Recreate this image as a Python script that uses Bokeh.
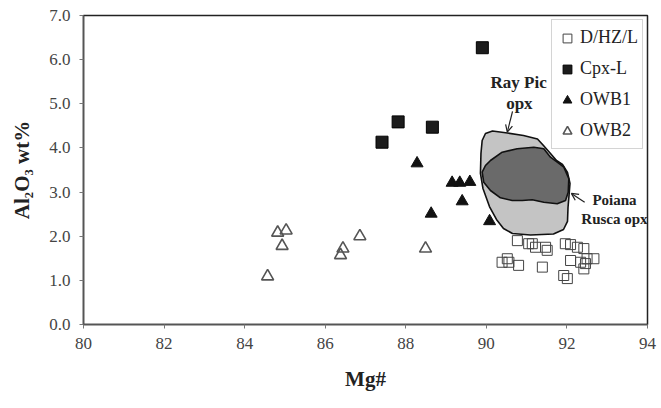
from bokeh.plotting import figure
from bokeh.models import (Range1d, FixedTicker, PrintfTickFormatter, Legend, LegendItem,
                          Label, Arrow, OpenHead)
from bokeh.embed import file_html
from bokeh.resources import INLINE

# ---- data ----
dhzl_x = [90.77, 91.14, 91.22, 91.47, 91.51, 91.96, 92.09, 92.26, 90.39, 90.56, 90.80,
          91.39, 92.09, 92.34, 92.50, 92.67, 92.42, 91.92, 92.01, 92.42, 90.52, 92.46, 91.05]
dhzl_y = [1.90, 1.83, 1.75, 1.75, 1.68, 1.83, 1.81, 1.75, 1.41, 1.41, 1.34,
          1.30, 1.45, 1.41, 1.49, 1.49, 1.26, 1.11, 1.04, 1.72, 1.49, 1.38, 1.83]

cpx_x = [89.90, 87.81, 88.66, 87.41]
cpx_y = [6.27, 4.59, 4.47, 4.13]

owb1_x = [88.28, 89.15, 89.34, 89.59, 89.40, 88.63, 90.08]
owb1_y = [3.65, 3.21, 3.21, 3.23, 2.79, 2.51, 2.34]

owb2_x = [84.82, 85.03, 84.93, 84.57, 86.44, 86.38, 86.86, 88.49]
owb2_y = [2.08, 2.13, 1.78, 1.09, 1.72, 1.57, 2.00, 1.72]

raypic_x = [89.896, 89.978, 90.152, 90.524, 90.922, 91.269, 91.418, 91.592, 91.741, 91.890,
            92.014, 92.076, 92.052, 92.027, 92.014, 91.915, 91.666, 91.095, 90.648, 90.425,
            90.251, 90.077, 89.916, 89.853, 89.866]
raypic_y = [4.169, 4.327, 4.384, 4.338, 4.282, 4.203, 4.055, 3.874, 3.715, 3.625,
            3.444, 3.194, 2.923, 2.651, 2.334, 2.152, 2.050, 2.028, 2.062, 2.175,
            2.379, 2.673, 3.081, 3.421, 3.874]

poiana_x = [90.102, 90.393, 90.765, 91.178, 91.426, 91.592, 91.759, 91.923, 92.047, 92.032,
            91.965, 91.759, 91.426, 91.138, 90.889, 90.641, 90.350, 90.102, 89.935, 89.896,
            89.978]
poiana_y = [3.715, 3.903, 3.980, 4.017, 3.980, 3.790, 3.677, 3.564, 3.301, 2.997,
            2.809, 2.734, 2.771, 2.825, 2.809, 2.809, 2.870, 3.036, 3.224, 3.450,
            3.602]

x_ticks = [80, 82, 84, 86, 88, 90, 92, 94]
y_ticks = [0, 1, 2, 3, 4, 5, 6, 7]

SERIF = "Liberation Serif"

p = figure(width=661, height=408, x_range=Range1d(80, 94), y_range=Range1d(0, 7),
           output_backend="svg", toolbar_location=None,
           min_border_left=83, min_border_right=14, min_border_top=15, min_border_bottom=84)

p.xgrid.visible = False
p.ygrid.visible = False
p.outline_line_color = "#222222"
p.outline_line_width = 1.5
p.background_fill_color = "white"
p.border_fill_color = "white"

for ax in (p.xaxis[0], p.yaxis[0]):
    ax.axis_line_color = "#555555"
    ax.axis_line_width = 1.5
    ax.major_tick_line_color = "#777777"
    ax.major_tick_in = 0
    ax.major_tick_out = 4
    ax.minor_tick_line_color = None
    ax.major_label_text_font = SERIF
    ax.major_label_text_font_size = "17px"
    ax.major_label_text_color = "#444444"
    ax.axis_label_text_font = SERIF
    ax.axis_label_text_font_style = "bold"
    ax.axis_label_text_color = "#222222"

p.xaxis.ticker = FixedTicker(ticks=x_ticks)
p.yaxis.ticker = FixedTicker(ticks=y_ticks)
p.yaxis.formatter = PrintfTickFormatter(format="%.1f")
p.xaxis.major_label_standoff = 9
p.yaxis.major_label_standoff = 9
p.xaxis.axis_label = "Mg#"
p.yaxis.axis_label = "Al\u2082O\u2083 wt%"
p.xaxis.axis_label_text_font_size = "21px"
p.yaxis.axis_label_text_font_size = "21px"
p.xaxis.axis_label_standoff = 15
p.yaxis.axis_label_standoff = 12

r_dhzl = p.scatter(dhzl_x, dhzl_y, marker="square", size=10, fill_color=None,
                   line_color="#444444", line_width=1)
r_owb2 = p.scatter(owb2_x, owb2_y, marker="triangle", size=12, fill_color=None,
                   line_color="#555555", line_width=1.6)
r_owb1 = p.scatter(owb1_x, owb1_y, marker="triangle", size=12, fill_color="#111111",
                   line_color="#111111", line_width=1)
r_cpx = p.scatter(cpx_x, cpx_y, marker="square", size=12, fill_color="#1c1c1c",
                  line_color="#000000", line_width=1)

p.patch(raypic_x, raypic_y, fill_color="#c4c4c4", line_color="#111111", line_width=1.6)
p.patch(poiana_x, poiana_y, fill_color="#6a6a6a", line_color="#111111", line_width=1.6)

label_style = dict(text_font=SERIF, text_font_style="bold", text_color="#222222",
                   text_align="center", text_baseline="middle")
p.add_layout(Label(x=90.80, y=5.48, text="Ray Pic", text_font_size="17px", **label_style))
p.add_layout(Label(x=90.82, y=5.01, text="opx", text_font_size="17px", **label_style))
p.add_layout(Label(x=93.18, y=2.81, text="Poiana", text_font_size="15px", **label_style))
p.add_layout(Label(x=93.18, y=2.38, text="Rusca opx", text_font_size="15px", **label_style))

p.add_layout(Arrow(end=OpenHead(size=7, line_width=1.2, line_color="#222222"),
                   x_start=90.65, y_start=4.83, x_end=90.52, y_end=4.36,
                   line_color="#222222", line_width=1.2))
p.add_layout(Arrow(end=OpenHead(size=7, line_width=1.2, line_color="#222222"),
                   x_start=92.44, y_start=2.77, x_end=92.11, y_end=2.97,
                   line_color="#222222", line_width=1.2))

legend = Legend(items=[
    LegendItem(label="D/HZ/L", renderers=[r_dhzl]),
    LegendItem(label="Cpx-L", renderers=[r_cpx]),
    LegendItem(label="OWB1", renderers=[r_owb1]),
    LegendItem(label="OWB2", renderers=[r_owb2]),
], location="top_right")
legend.margin = 4
legend.padding = 4
legend.spacing = 4
legend.label_height = 27
legend.glyph_height = 24
legend.glyph_width = 22
legend.label_standoff = 2
legend.label_text_font = SERIF
legend.label_text_font_size = "18px"
legend.label_text_color = "#222222"
legend.border_line_color = "#aaaaaa"
legend.border_line_width = 1
legend.background_fill_color = "white"
legend.background_fill_alpha = 1
p.add_layout(legend)

open("out.html", "w").write(file_html(p, INLINE))
